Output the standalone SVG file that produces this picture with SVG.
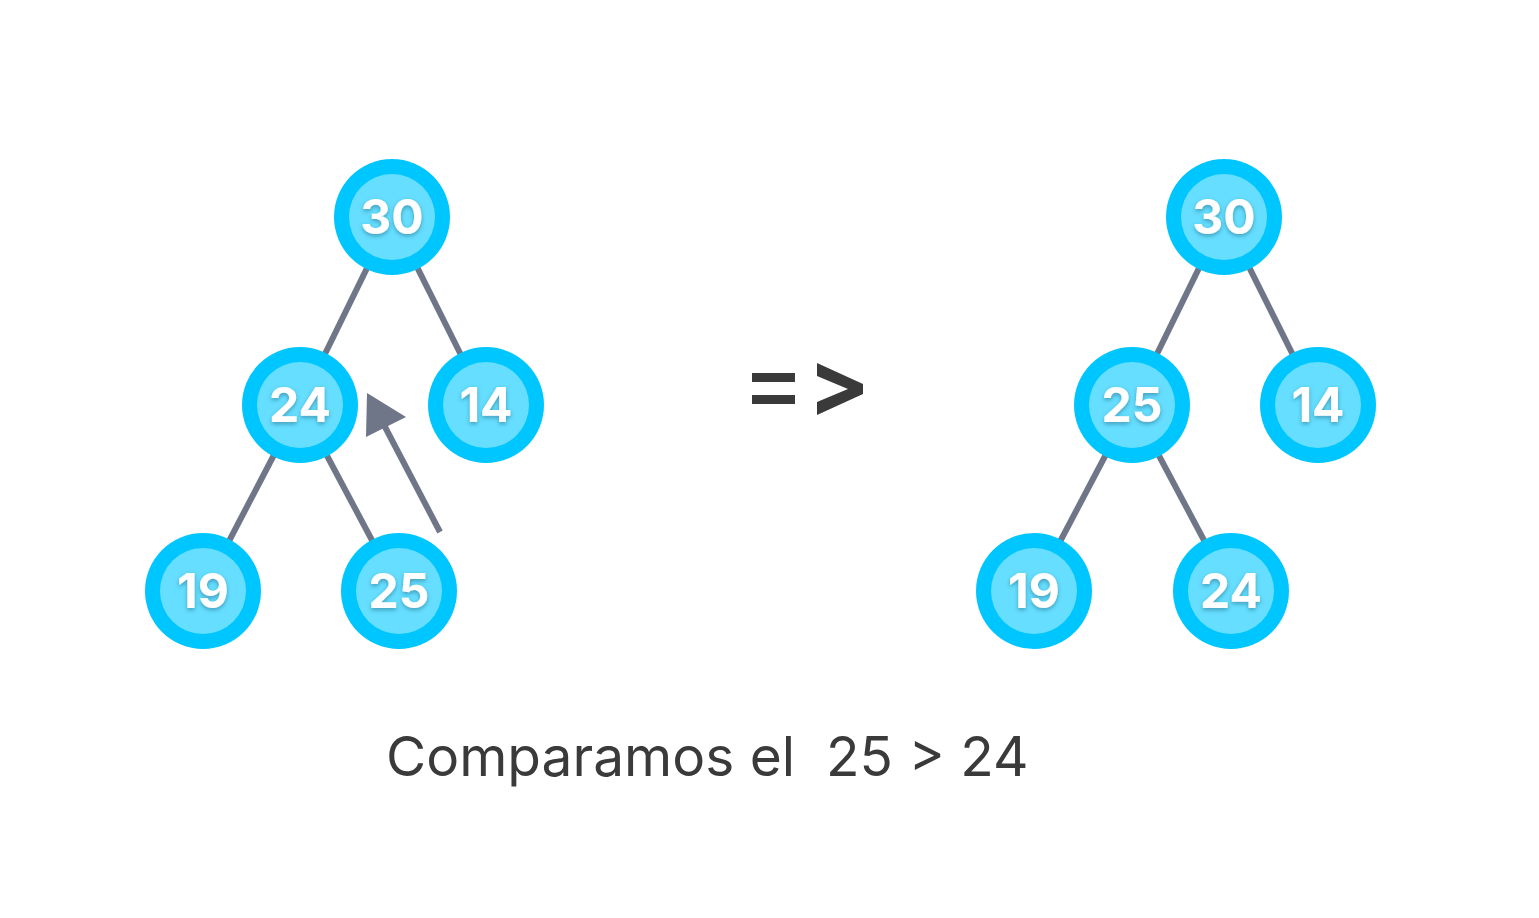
<svg xmlns="http://www.w3.org/2000/svg" width="1539" height="918" viewBox="0 0 1539 918">
  <style>
    .ring { fill: #00C6FF; }
    .core { fill: #66DEFF; }
    .lbl { font-family: Inter, "Liberation Sans", sans-serif; font-weight: 700; font-size: 48px; fill: #FFFFFF; text-anchor: middle; filter: url(#shade); }
    .edge { stroke: #6E7687; stroke-width: 6; fill: none; }
    .caption { font-family: Inter, "Liberation Sans", sans-serif; font-size: 55px; fill: #3A3A3A; }
  </style>
  <defs>
    <filter id="shade" x="-20%" y="-20%" width="140%" height="150%">
      <feDropShadow dx="0" dy="2" stdDeviation="2" flood-color="#1B4A66" flood-opacity="0.45"/>
    </filter>
  </defs>
  <rect width="1539" height="918" fill="#FFFFFF"/>

  <!-- connectors -->
  <g id="connectors">
    <line class="edge" x1="392" y1="217" x2="300" y2="405"/>
    <line class="edge" x1="392" y1="217" x2="486" y2="405"/>
    <line class="edge" x1="300" y1="405" x2="203" y2="591"/>
    <line class="edge" x1="300" y1="405" x2="399" y2="591"/>
    <line class="edge" x1="1224" y1="217" x2="1132" y2="405"/>
    <line class="edge" x1="1224" y1="217" x2="1318" y2="405"/>
    <line class="edge" x1="1132" y1="405" x2="1034" y2="591"/>
    <line class="edge" x1="1132" y1="405" x2="1231" y2="591"/>
    <!-- swap arrow -->
    <line class="edge" x1="440" y1="532" x2="384" y2="425"/>
    <path d="M367,393 L406,417 L366,437 Z" fill="#6E7687"/>
  </g>

  <!-- left tree -->
  <g id="l30"><circle class="ring" cx="392" cy="217" r="58"/><circle class="core" cx="392" cy="217" r="43"/><text class="lbl" x="392" y="234">30</text></g>
  <g id="l24"><circle class="ring" cx="300" cy="405" r="58"/><circle class="core" cx="300" cy="405" r="43"/><text class="lbl" x="300" y="422">24</text></g>
  <g id="l14"><circle class="ring" cx="486" cy="405" r="58"/><circle class="core" cx="486" cy="405" r="43"/><text class="lbl" x="486" y="422">14</text></g>
  <g id="l19"><circle class="ring" cx="203" cy="591" r="58"/><circle class="core" cx="203" cy="591" r="43"/><text class="lbl" x="203" y="608">19</text></g>
  <g id="l25"><circle class="ring" cx="399" cy="591" r="58"/><circle class="core" cx="399" cy="591" r="43"/><text class="lbl" x="399" y="608">25</text></g>

  <!-- right tree -->
  <g id="r30"><circle class="ring" cx="1224" cy="217" r="58"/><circle class="core" cx="1224" cy="217" r="43"/><text class="lbl" x="1224" y="234">30</text></g>
  <g id="r25"><circle class="ring" cx="1132" cy="405" r="58"/><circle class="core" cx="1132" cy="405" r="43"/><text class="lbl" x="1132" y="422">25</text></g>
  <g id="r14"><circle class="ring" cx="1318" cy="405" r="58"/><circle class="core" cx="1318" cy="405" r="43"/><text class="lbl" x="1318" y="422">14</text></g>
  <g id="r19"><circle class="ring" cx="1034" cy="591" r="58"/><circle class="core" cx="1034" cy="591" r="43"/><text class="lbl" x="1034" y="608">19</text></g>
  <g id="r24"><circle class="ring" cx="1231" cy="591" r="58"/><circle class="core" cx="1231" cy="591" r="43"/><text class="lbl" x="1231" y="608">24</text></g>

  <!-- transition sign "=>" -->
  <g id="sign">
    <rect x="752" y="373" width="43" height="9" fill="#3A3A3A"/>
    <rect x="752" y="395" width="43" height="9" fill="#3A3A3A"/>
    <path d="M817,363 L863,384 L863,394 L817,415 L817,402 L848,389 L817,376 Z" fill="#3A3A3A"/>
  </g>

  <!-- caption -->
  <text class="caption" x="386" y="776" xml:space="preserve">Comparamos el  25 &gt; 24</text>
</svg>
